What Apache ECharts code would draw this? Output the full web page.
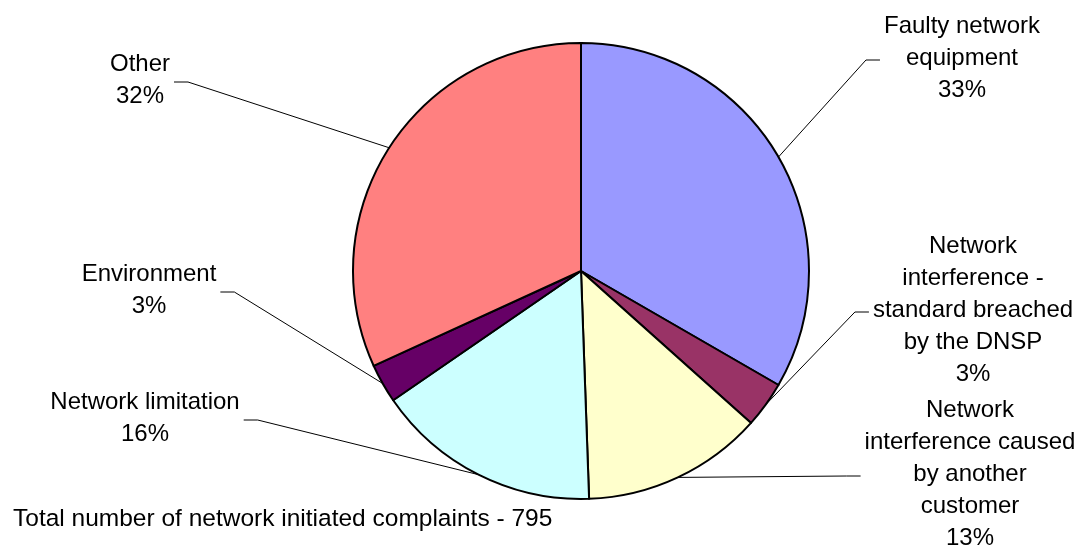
<!DOCTYPE html>
<html>
<head>
<meta charset="utf-8">
<script src="https://cdn.jsdelivr.net/npm/echarts@6/dist/echarts.min.js"></script>
<style>
  html, body { margin: 0; padding: 0; background: #ffffff; }
  #chart { width: 1086px; height: 549px; }
</style>
</head>
<body>
<div id="chart"></div>
<script>
// Network initiated complaints by cause (count of complaints, total 795)
const categories = [
  'Faulty network\nequipment',
  'Network\ninterference -\nstandard breached\nby the DNSP',
  'Network\ninterference caused\nby another\ncustomer',
  'Network limitation',
  'Environment',
  'Other'
];
const complaints = [265, 26, 102, 127, 22, 253];
const sliceColors = ['#9999FF', '#993366', '#FFFFCC', '#CCFFFF', '#660066', '#FF8080'];
const totalNote = 'Total number of network initiated complaints - 795';

// Pie geometry and label placement (centre of each label block)
const PIE_CENTER = [581, 271];
const PIE_RADIUS = 228;
const labelCenters = [[962, 58], [973, 310], [970, 474], [145, 418], [149, 290], [140, 80]];

const total = complaints.reduce((s, v) => s + v, 0);
const midAngles = [];
let acc = 0;
complaints.forEach(v => {
  midAngles.push((acc + v / 2) / total * Math.PI * 2);
  acc += v;
});

const FONT = '"Liberation Sans", Arial, sans-serif';

const chart = echarts.init(document.getElementById('chart'), null, { renderer: 'canvas' });
chart.setOption({
  animation: false,
  backgroundColor: '#ffffff',
  series: [{
    type: 'pie',
    center: PIE_CENTER,
    radius: PIE_RADIUS,
    startAngle: 90,
    clockwise: true,
    avoidLabelOverlap: false,
    percentPrecision: 0,
    itemStyle: { borderColor: '#000000', borderWidth: 2 },
    emphasis: { disabled: true },
    label: {
      show: true,
      position: 'outside',
      formatter: '{b}\n{d}%',
      color: '#000000',
      fontFamily: FONT,
      fontSize: 24,
      lineHeight: 32,
      align: 'center'
    },
    labelLine: {
      show: true,
      length: 20,
      length2: 14,
      lineStyle: { color: '#000000', width: 1 }
    },
    labelLayout: function (p) {
      const i = p.dataIndex;
      const lx = labelCenters[i][0];
      const ly = labelCenters[i][1];
      const w = p.labelRect.width;
      const onRight = lx > PIE_CENTER[0];
      const endX = onRight ? lx - w / 2 - 4 : lx + w / 2 + 4;
      const elbowX = onRight ? endX - 14 : endX + 14;
      const lineY = ly + 2;
      const a = midAngles[i];
      const sx = PIE_CENTER[0] + PIE_RADIUS * Math.sin(a);
      const sy = PIE_CENTER[1] - PIE_RADIUS * Math.cos(a);
      return {
        x: lx,
        y: ly,
        align: 'center',
        verticalAlign: 'middle',
        labelLinePoints: [[sx, sy], [elbowX, lineY], [endX, lineY]]
      };
    },
    data: categories.map((name, i) => ({
      name: name,
      value: complaints[i],
      itemStyle: { color: sliceColors[i] }
    }))
  }],
  graphic: [{
    type: 'text',
    left: 13,
    top: 507,
    style: {
      text: totalNote,
      fill: '#000000',
      font: '24.5px ' + FONT
    }
  }]
});
</script>
</body>
</html>
